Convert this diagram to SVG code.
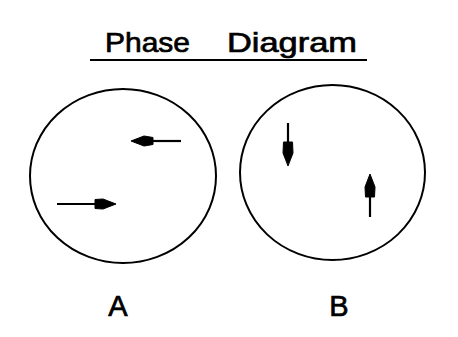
<svg xmlns="http://www.w3.org/2000/svg" width="458" height="337" viewBox="0 0 458 337">
<style>
.t{font-family:"Liberation Sans",Arial,sans-serif;fill:#000;stroke:#000;stroke-width:0.7}
.c{fill:none;stroke:#000;stroke-width:2}
.s{stroke:#000;stroke-width:2.2}
.h{fill:#000;stroke:#000;stroke-width:1;stroke-linejoin:round}
</style>
<rect width="458" height="337" fill="#fff"/>
<g id="title">
<text class="t" x="105" y="52" font-size="28" textLength="85" lengthAdjust="spacingAndGlyphs">Phase</text>
<text class="t" x="227" y="52" font-size="28" textLength="130" lengthAdjust="spacingAndGlyphs">Diagram</text>
<line x1="90" y1="60" x2="367" y2="60" class="s"/>
</g>
<g id="A">
<ellipse cx="123" cy="176" rx="93" ry="87" class="c"/>
<line x1="181" y1="141" x2="150" y2="141" class="s"/>
<polygon class="h" points="131,141 144,136 153,137.5 153,144.5 144,146"/>
<line x1="57" y1="204" x2="97" y2="204" class="s"/>
<polygon class="h" points="116,204 103,199 95,199.5 95,208.5 103,209"/>
<text class="t" x="118" y="316" font-size="29" text-anchor="middle">A</text>
</g>
<g id="B">
<ellipse cx="332.5" cy="172.5" rx="92.5" ry="87.5" class="c"/>
<line x1="288" y1="123" x2="288" y2="145" class="s"/>
<polygon class="h" points="288,166 283,153 283.5,142 292.5,142 293,153"/>
<line x1="370" y1="217" x2="370" y2="195" class="s"/>
<polygon class="h" points="370,174 365,187 365.5,197 374.5,197 375,187"/>
<text class="t" x="339" y="316" font-size="29" text-anchor="middle">B</text>
</g>
</svg>
